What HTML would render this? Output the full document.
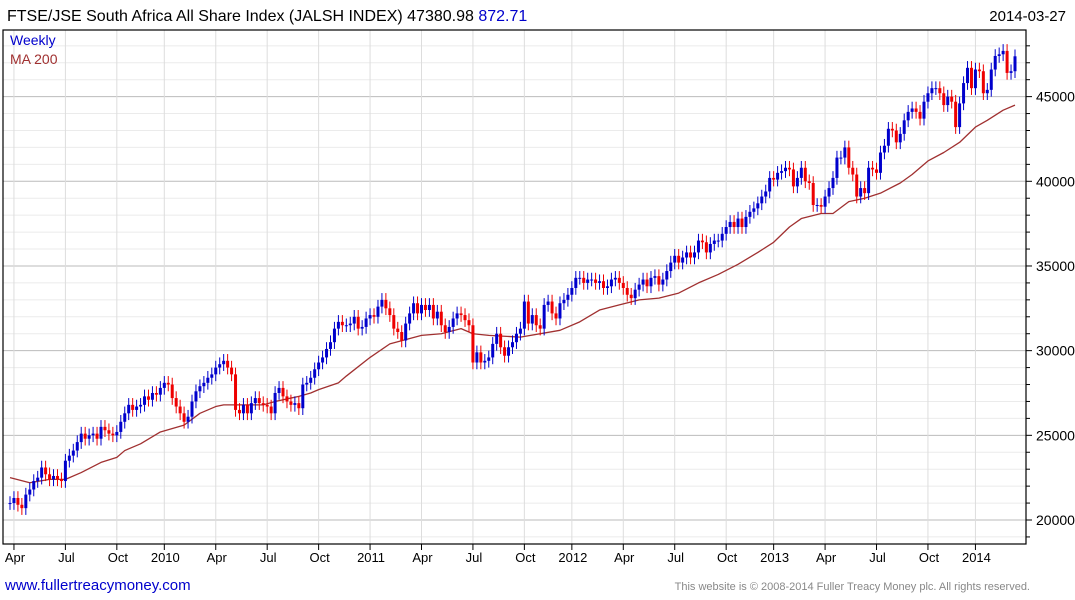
<!DOCTYPE html>
<html><head><meta charset="utf-8"><style>
body{margin:0;background:#fff;width:1075px;height:600px;overflow:hidden;font-family:"Liberation Sans",sans-serif}
</style></head><body>
<svg id="chart" width="1075" height="600" style="position:absolute;left:0;top:0">
<text x="7" y="21" font-size="16" fill="#000">FTSE/JSE South Africa All Share Index (JALSH INDEX) 47380.98 <tspan fill="#0000cc">872.71</tspan></text>
<text x="1066" y="21" font-size="15" text-anchor="end" fill="#000">2014-03-27</text>
<g id="grid"></g><g id="ma"></g><g id="candles"></g><g id="axes"></g>
<text x="10" y="45" font-size="14" fill="#0000cc">Weekly</text>
<text x="10" y="64" font-size="14" fill="#a03030">MA 200</text>
<text x="5" y="590" font-size="15" fill="#0000cc">www.fullertreacymoney.com</text>
<text x="1030" y="590" font-size="11" fill="#888" text-anchor="end">This website is © 2008-2014 Fuller Treacy Money plc. All rights reserved.</text>
</svg>
<script>
const closes=[21000,21300,20900,20700,21500,21800,22300,22500,23100,22700,22400,22600,22400,22300,23500,23800,24100,24600,25100,24800,25000,25100,24800,25500,
25300,25100,25000,25200,25800,26300,26800,26500,26700,26800,27300,27100,27500,27400,27800,28100,28000,27200,26700,26300,25800,26100,27000,27600,27900,28100,
28400,28600,29000,29200,29400,29000,28600,26500,26300,26800,26300,26900,27200,26900,26800,26700,26300,27500,27800,27300,27000,26800,26900,26600,28000,28100,
28400,28900,29300,29600,30100,30500,31300,31700,31500,31500,31600,32000,31300,31400,31900,32100,32000,32600,33000,32500,32100,31300,31100,30600,31600,32200,
32800,32200,32700,32400,32700,31900,32300,31500,31100,31400,31900,32200,32100,31800,31500,29300,29900,29300,29400,29600,30400,31000,30200,29700,30200,30500,
31000,31300,32900,31600,32100,31500,31300,32700,32900,32200,31900,32800,33000,33300,33700,34300,34300,34000,34200,34200,34000,34100,33700,33800,34200,34300,
34000,33700,33300,33100,33600,33900,34200,33800,34300,34400,33900,34200,34700,35200,35600,35200,35500,35800,35500,35800,36500,36400,35800,36300,36500,36500,
36900,37300,37600,37300,37800,37300,37900,38200,38400,38700,39100,39400,40200,40100,40500,40600,40800,40700,39700,40200,40800,40000,39900,38600,38600,38500,
39100,39600,40200,41400,41400,42000,40800,40400,39100,39600,39300,40800,40700,40500,41700,42100,43100,43000,42300,42800,43600,44100,44300,44100,43700,44700,
45200,45500,45500,45200,44500,45000,44700,43200,44600,45800,46700,45500,46600,46500,45200,45400,46600,47400,47500,47700,46400,46500,47381];
const maWeeks=[0,5,10,14,18,23,27,29,33,38,44,48,52,54,64,67,71,73,76,78,83,85,91,96,104,109,114,117,121,129,139,144,149,154,159,164,169,174,179,184,189,193,197,200,205,208,212,216,220,225,228,232,236,240,244,247,251,254];
const maValues=[22500,22200,22400,22400,22800,23400,23700,24100,24500,25200,25600,26300,26700,26800,26800,27000,27200,27300,27500,27700,28100,28500,29600,30400,30900,31000,31300,31000,30900,30800,31200,31700,32400,32700,33000,33100,33400,34000,34500,35100,35800,36400,37300,37800,38100,38100,38800,39000,39300,39900,40400,41200,41700,42300,43200,43600,44200,44500];
const yTicks=[20000,25000,30000,35000,40000,45000];
const xTickLabels=["Apr","Jul","Oct","2010","Apr","Jul","Oct","2011","Apr","Jul","Oct","2012","Apr","Jul","Oct","2013","Apr","Jul","Oct","2014"];
const xTickWeeks=[1,14,27,39,52,65,78,91,104,117,130,142,155,168,181,193,206,219,232,244];

const L=3,R=1026,T=30,B=544,X0=10,X1=1015;
const yS=v=>520-(v-20000)*0.016935;
const xS=i=>X0+i*(X1-X0)/(closes.length-1);
const ns="http://www.w3.org/2000/svg";
function mk(p,tag,a){const e=document.createElementNS(ns,tag);for(const k in a)e.setAttribute(k,a[k]);p.appendChild(e);return e;}
const grid=document.getElementById('grid'),axes=document.getElementById('axes');
for(let v=19000;v<=48000;v+=1000){const y=yS(v);if(y<T||y>B)continue;
 const major=v%5000===0;
 const g=mk(grid,'line',{x1:L,x2:R,y1:y,y2:y,stroke:major?'#bbb':'#ebebeb','stroke-width':1});
 
 
 const t=mk(axes,'line',{x1:R,x2:R+(major?6:4),y1:y,y2:y,stroke:'#000'});
 
 
}
yTicks.forEach(v=>{const t=mk(axes,'text',{x:1036,y:yS(v)+5,'font-size':14,fill:'#000'});t.textContent=v;
 
 });
xTickWeeks.forEach((w,i)=>{const x=xS(w);
 const g=mk(grid,'line',{x1:x,x2:x,y1:T,y2:B,stroke:'#ddd'});
 
 
 const tk=mk(axes,'line',{x1:x,x2:x,y1:B,y2:B+6,stroke:'#000'});
 
 
 const t=mk(axes,'text',{x:x+1,y:562,'font-size':13,fill:'#000','text-anchor':'middle'});t.textContent=xTickLabels[i];
 
 });
const fr=mk(axes,'rect',{x:L,y:T,width:R-L,height:B-T,fill:'none',stroke:'#000','stroke-width':1.2});


const cg=document.getElementById('candles');
closes.forEach((c,i)=>{const o=i?closes[i-1]:c;const up=c>=o;const col=up?'#0000cc':'#ee0000';
 const x=xS(i);const hi=Math.max(o,c)+400,lo=Math.min(o,c)-400;
 const w=mk(cg,'line',{x1:x,x2:x,y1:yS(hi),y2:yS(lo),stroke:col,'stroke-width':1});
 
 
 const yt=yS(Math.max(o,c)),yb=yS(Math.min(o,c));
 const b=mk(cg,'rect',{x:x-1.5,y:yt,width:3,height:Math.max(1,yb-yt),fill:col});
 
 });
const pts=maWeeks.map((w,i)=>xS(w)+','+yS(maValues[i])).join(' ');
const ml=mk(document.getElementById('ma'),'polyline',{points:pts,fill:'none',stroke:'#a03030','stroke-width':1.3,'stroke-linejoin':'round'});


</script>
</body></html>
